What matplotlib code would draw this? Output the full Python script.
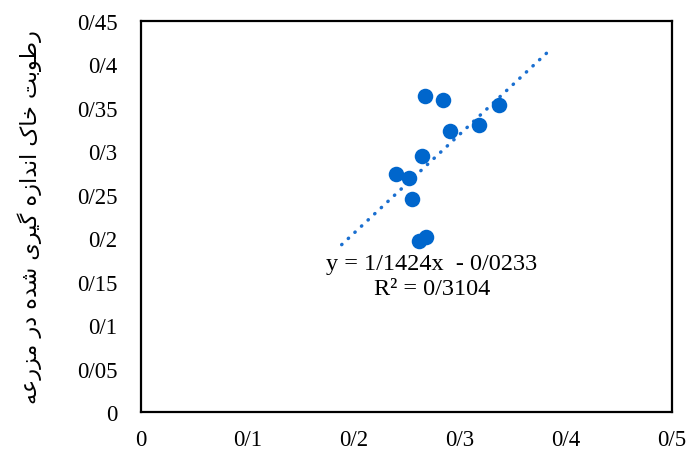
import matplotlib
matplotlib.use("Agg")
import matplotlib.pyplot as plt
import numpy as np

# measured vs estimated soil moisture
x_vals = [0.2674, 0.284, 0.3374, 0.318, 0.2913, 0.2643, 0.2398, 0.252, 0.2552, 0.262, 0.2684]
y_vals = [0.364, 0.359, 0.353, 0.3306, 0.3237, 0.2942, 0.2739, 0.2693, 0.2451, 0.1964, 0.201]

slope = 1.1424
intercept = -0.0233
trend_x = [0.189, 0.385]

x_ticks = [0, 0.1, 0.2, 0.3, 0.4, 0.5]
y_ticks = [0, 0.05, 0.1, 0.15, 0.2, 0.25, 0.3, 0.35, 0.4, 0.45]
x_labels = ["0", "0/1", "0/2", "0/3", "0/4", "0/5"]
y_labels = ["0", "0/05", "0/1", "0/15", "0/2", "0/25", "0/3", "0/35", "0/4", "0/45"]

ylabel_fa = "رطوبت خاک اندازه گیری شده در مزرعه"
eq_text = "y = 1/1424x  - 0/0233\nR² = 0/3104"

# crude arabic shaping (no raqm in matplotlib)
FORMS = {
    "ر": ("\uFEAD", "\uFEAE"), "ز": ("\uFEAF", "\uFEB0"), "د": ("\uFEA9", "\uFEAA"),
    "ا": ("\uFE8D", "\uFE8E"), "و": ("\uFEED", "\uFEEE"),
    "ط": ("\uFEC1", "\uFEC2", "\uFEC3", "\uFEC4"), "ب": ("\uFE8F", "\uFE90", "\uFE91", "\uFE92"),
    "ت": ("\uFE95", "\uFE96", "\uFE97", "\uFE98"), "خ": ("\uFEA5", "\uFEA6", "\uFEA7", "\uFEA8"),
    "ک": ("\uFB8E", "\uFB8F", "\uFB90", "\uFB91"), "ن": ("\uFEE5", "\uFEE6", "\uFEE7", "\uFEE8"),
    "ه": ("\uFEE9", "\uFEEA", "\uFEEB", "\uFEEC"), "گ": ("\uFB92", "\uFB93", "\uFB94", "\uFB95"),
    "ی": ("\uFBFC", "\uFBFD", "\uFBFE", "\uFBFF"), "ش": ("\uFEB5", "\uFEB6", "\uFEB7", "\uFEB8"),
    "م": ("\uFEE1", "\uFEE2", "\uFEE3", "\uFEE4"), "ع": ("\uFEC9", "\uFECA", "\uFECB", "\uFECC"),
}


def shape(text):
    out = []
    for i, ch in enumerate(text):
        if ch not in FORMS:
            out.append(ch)
            continue
        prev = text[i - 1] if i > 0 else " "
        nxt = text[i + 1] if i + 1 < len(text) else " "
        join_prev = prev in FORMS and len(FORMS[prev]) == 4
        join_next = len(FORMS[ch]) == 4 and nxt in FORMS
        f = FORMS[ch]
        if join_prev and join_next:
            out.append(f[3])
        elif join_prev:
            out.append(f[1])
        elif join_next:
            out.append(f[2])
        else:
            out.append(f[0])
    return "".join(out)[::-1]


plt.rcParams['font.family'] = ['Liberation Serif', 'DejaVu Sans']

fig = plt.figure(figsize=(6.89, 4.52), dpi=100)
ax = fig.add_axes([0.2046, 0.0863, 0.7707, 0.865])

ax.scatter(x_vals, y_vals, s=125, color='#0066cc', zorder=3, linewidths=0)

tx = np.array(trend_x)
ax.plot(tx, slope * tx + intercept, color='#1a6fd0', linewidth=2.5,
        linestyle=(0, (0.1, 2.5)), dash_capstyle='round', zorder=2)

ax.text(0.274, 0.1565, eq_text, ha='center', va='center', fontsize=17.5,
        linespacing=1.28, zorder=4)

ax.set_xlim(0, 0.5)
ax.set_ylim(0, 0.45)
ax.set_xticks(x_ticks)
ax.set_xticklabels(x_labels, fontsize=16.5)
ax.set_yticks(y_ticks)
ax.set_yticklabels(y_labels, fontsize=16.5)
ax.tick_params(axis='x', length=0, pad=12)
ax.tick_params(axis='y', length=0, pad=17)

for sp in ax.spines.values():
    sp.set_linewidth(1.6)
    sp.set_color('black')

ax.set_ylabel(shape(ylabel_fa), fontsize=16, family='DejaVu Sans')
ax.yaxis.set_label_coords(-0.186, 0.5)

fig.savefig('out.png', dpi=100)
